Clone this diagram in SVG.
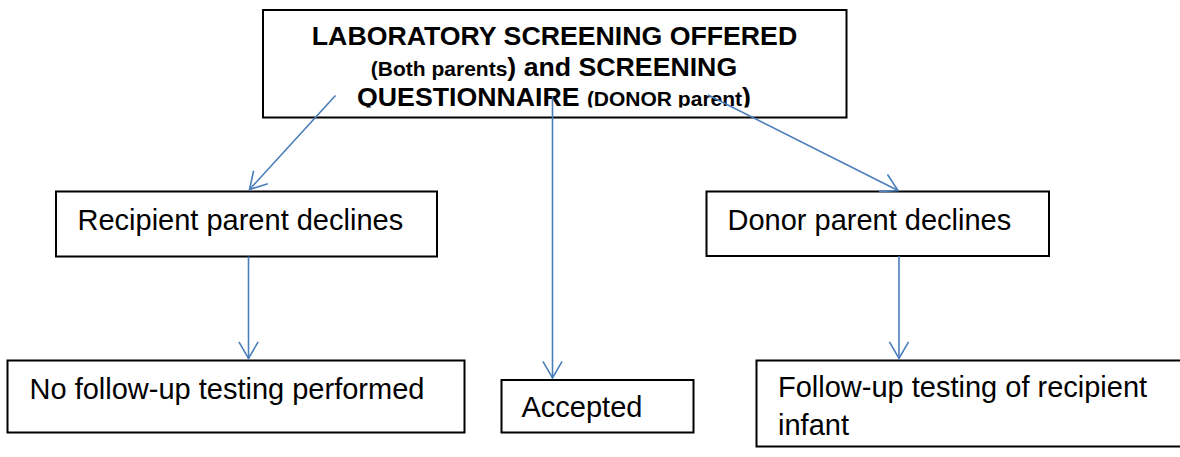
<svg xmlns="http://www.w3.org/2000/svg" width="1180" height="457" viewBox="0 0 1180 457">
<style>
.box{fill:#fff;stroke:#000;stroke-width:2}
.lbl{font-family:"Liberation Sans",Arial,sans-serif;font-size:29px;fill:#000}
.hd{font-family:"Liberation Sans",Arial,sans-serif;font-weight:bold;font-size:26.7px;fill:#000}
.sm{font-size:21px}
.conn{fill:none;stroke:#4a7ebb;stroke-width:1.6;marker-end:url(#arr)}
</style>
<defs>
<marker id="arr" markerUnits="userSpaceOnUse" viewBox="-20 -12 22 24" refX="0" refY="0" markerWidth="22" markerHeight="24" orient="auto">
<path d="M-16.6,-9.6 L0,0 L-16.6,9.6" fill="none" stroke="#4a7ebb" stroke-width="1.6"/>
</marker>
<clipPath id="topclip"><rect x="263" y="10" width="584" height="97.5"/></clipPath>
</defs>
<rect width="1180" height="457" fill="#fff"/>
<g id="n-top">
<rect class="box" x="263" y="10" width="583.5" height="107.5"/>
<g clip-path="url(#topclip)">
<text class="hd" x="554.5" y="45" text-anchor="middle">LABORATORY SCREENING OFFERED</text>
<text class="hd" x="554" y="75.5" text-anchor="middle"><tspan class="sm">(Both parents</tspan>) and SCREENING</text>
<text class="hd" x="554" y="105.5" text-anchor="middle">QUESTIONNAIRE <tspan class="sm">(DONOR parent</tspan>)</text>
</g>
</g>
<g id="n-recipient">
<rect class="box" x="56" y="191.5" width="381" height="65"/>
<text class="lbl" x="77.5" y="230">Recipient parent declines</text>
</g>
<g id="n-donor">
<rect class="box" x="706.5" y="191.5" width="342.5" height="64.5"/>
<text class="lbl" x="727.5" y="230">Donor parent declines</text>
</g>
<g id="n-nofollow">
<rect class="box" x="7.5" y="360.5" width="457" height="72"/>
<text class="lbl" x="29.5" y="399">No follow-up testing performed</text>
</g>
<g id="n-accepted">
<rect class="box" x="501.5" y="380" width="192" height="52.5"/>
<text class="lbl" x="521.5" y="417">Accepted</text>
</g>
<g id="n-followup">
<rect class="box" x="756.5" y="360.5" width="440" height="86"/>
<text class="lbl" x="778" y="396.5">Follow-up testing of recipient</text>
<text class="lbl" x="778" y="435">infant</text>
</g>
<g id="connectors">
<line class="conn" x1="335.5" y1="95.5" x2="249.5" y2="189.5"/>
<line class="conn" x1="552.5" y1="96" x2="552.5" y2="378"/>
<line class="conn" x1="708" y1="95" x2="898" y2="190.5"/>
<line class="conn" x1="248.5" y1="256.5" x2="248.5" y2="358.5"/>
<line class="conn" x1="899" y1="256" x2="899" y2="358.5"/>
</g>
</svg>
